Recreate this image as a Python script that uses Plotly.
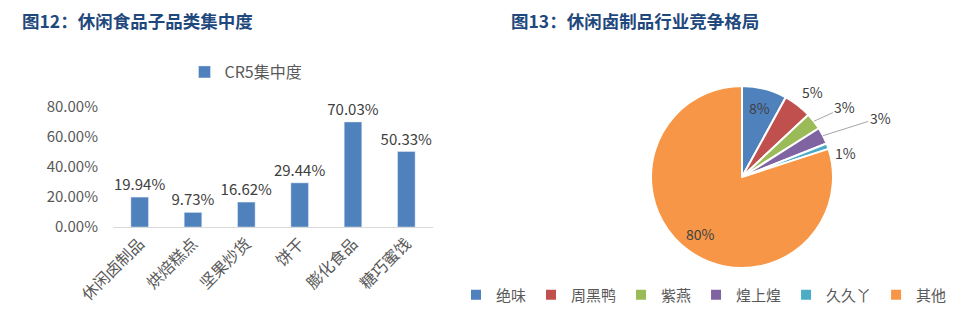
import math
import plotly.graph_objects as go

categories = ["休闲卤制品", "烘焙糕点", "坚果炒货", "饼干", "膨化食品", "糖巧蜜饯"]
cr5_values = [0.1994, 0.0973, 0.1662, 0.2944, 0.7003, 0.5033]
y_ticks = [0, 0.2, 0.4, 0.6, 0.8]

pie_labels = ["绝味", "周黑鸭", "紫燕", "煌上煌", "久久丫", "其他"]
pie_values = [8, 5, 3, 3, 1, 80]
pie_colors = ["#4F81BD", "#C0504D", "#9BBB59", "#8064A2", "#4BACC6", "#F79646"]
# label placement: ("in", radius fraction) or ("out", dx px, dy px, leader line)
label_place = [("in", 0.78), ("out", 15, -13, False), ("out", 31, -14, True),
               ("out", 57, -18, True), ("out", 18, 7, False), ("in", 0.78)]

FONT = "Noto Sans CJK SC, Noto Sans, sans-serif"
W, H = 956, 316
PIE_X = [651 / W, 833 / W]
PIE_Y = [1 - 268 / H, 1 - 86 / H]

fig = go.Figure()
fig.add_trace(go.Bar(
    x=categories, y=cr5_values, name="CR5集中度",
    marker_color="#4F81BD", width=0.33,
    text=[f"{v*100:.2f}%" for v in cr5_values], textposition="outside",
    constraintext="none",
    textfont=dict(size=15, color="#404040", family=FONT),
    cliponaxis=False, legend="legend", showlegend=True,
))
fig.add_trace(go.Pie(
    labels=pie_labels, values=pie_values, sort=False, direction="clockwise",
    marker=dict(colors=pie_colors, line=dict(color="white", width=2)),
    textinfo="none",
    domain=dict(x=PIE_X, y=PIE_Y),
    legend="legend2", hoverinfo="label+percent", automargin=False,
))

# data labels, positioned from the data (slice mid-angle)
cx_px = (PIE_X[0] + PIE_X[1]) / 2 * W
cy_px = (1 - (PIE_Y[0] + PIE_Y[1]) / 2) * H
r_px = min((PIE_X[1] - PIE_X[0]) * W, (PIE_Y[1] - PIE_Y[0]) * H) / 2
total = sum(pie_values)
lab_font = dict(size=14, color="#404040", family=FONT)
annotations = []
cum = 0
for v, place in zip(pie_values, label_place):
    mid = (cum + v / 2) / total * 2 * math.pi
    cum += v
    txt = f"{round(v / total * 100)}%"
    if place[0] == "in":
        rr = r_px * place[1]
        px = cx_px + rr * math.sin(mid)
        py = cy_px - rr * math.cos(mid)
        annotations.append(dict(x=px / W, y=1 - py / H, xref="paper", yref="paper",
                                text=txt, showarrow=False, xanchor="center",
                                yanchor="middle", font=lab_font))
        continue
    ex = cx_px + r_px * math.sin(mid)
    ey = cy_px - r_px * math.cos(mid)
    _, dx, dy, line = place
    if line:
        annotations.append(dict(x=ex / W, y=1 - ey / H, xref="paper", yref="paper",
                                text=txt, showarrow=True, arrowhead=0, arrowwidth=1,
                                arrowcolor="#A6A6A6", ax=dx, ay=dy, standoff=0,
                                xanchor="center", yanchor="middle", font=lab_font))
    else:
        annotations.append(dict(x=ex / W, y=1 - ey / H, xref="paper", yref="paper",
                                text=txt, showarrow=False, xshift=dx, yshift=-dy,
                                xanchor="center", yanchor="middle", font=lab_font))

annotations += [
    dict(text="<b>图12：休闲食品子品类集中度</b>", x=20/W, y=1-20/H, xref="paper", yref="paper",
         xanchor="left", yanchor="middle", showarrow=False,
         font=dict(size=17.5, color="#1F497D", family=FONT)),
    dict(text="<b>图13：休闲卤制品行业竞争格局</b>", x=509/W, y=1-20/H, xref="paper", yref="paper",
         xanchor="left", yanchor="middle", showarrow=False,
         font=dict(size=17.5, color="#1F497D", family=FONT)),
]

fig.update_layout(
    width=W, height=H, margin=dict(l=0, r=0, t=0, b=0, autoexpand=False),
    paper_bgcolor="white", plot_bgcolor="white",
    font=dict(family=FONT, color="#595959"),
    showlegend=True,
    xaxis=dict(domain=[113/W, 433/W], showline=True, linecolor="#D9D9D9", linewidth=1,
               ticks="", tickangle=-45, tickfont=dict(size=16, color="#595959")),
    yaxis=dict(domain=[1-227/H, 1-107/H], range=[0, 0.8], tickvals=y_ticks,
               tickformat=".2%", showgrid=False, zeroline=False,
               tickfont=dict(size=15, color="#595959"), ticklabelstandoff=14),
    legend=dict(x=246/W, y=1-72/H, xanchor="center", yanchor="middle",
                orientation="h", font=dict(size=16, color="#595959"),
                bgcolor="rgba(0,0,0,0)", itemwidth=30),
    legend2=dict(x=952/W, y=1-295/H, xanchor="right", yanchor="middle",
                 orientation="h", font=dict(size=15, color="#595959"),
                 bgcolor="rgba(0,0,0,0)", itemwidth=30),
    annotations=annotations,
)

fig.write_html("out.html")
